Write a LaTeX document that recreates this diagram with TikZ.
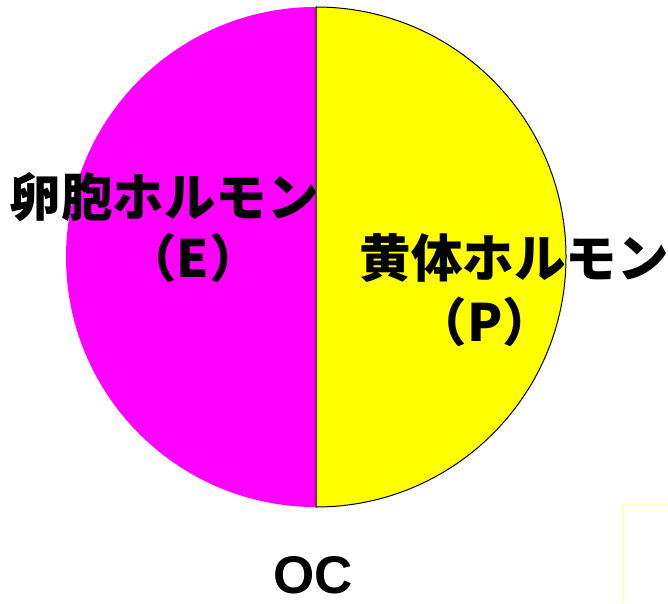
\documentclass[tikz,border=0pt]{standalone}
\usepackage{fontspec}
\setmainfont{Liberation Sans}
\newfontfamily\jpfont{Noto Sans CJK JP}
\usepackage{tikz}
\usetikzlibrary{positioning,calc}
\definecolor{pinkhalf}{HTML}{FF00FF}
\definecolor{yellowhalf}{HTML}{FFFF00}
\definecolor{paleyellow}{HTML}{FFFFC4}
\tikzset{
    label/.style={inner sep=0pt, font=\jpfont\bfseries\fontsize{51.5}{60}\selectfont},
    tag/.style={inner sep=0pt, font=\bfseries\fontsize{53}{60}\selectfont},
    rim/.style={draw=black, line width=1pt},
    frame/.style={draw=paleyellow, line width=2pt}
}

\begin{document}
\begin{tikzpicture}[x=1pt, y=1pt]
                    \useasboundingbox (0,0) rectangle (668,603);
                    \coordinate (C) at (316,346);
                    \coordinate (T) at (316,596);
                    \coordinate (B) at (316,96);
                    % the two halves
                    \fill[pinkhalf] (T) arc[start angle=90, end angle=270, radius=250] -- cycle;
                    \filldraw[fill=yellowhalf, rim] (B) arc[start angle=-90, end angle=90, radius=250] -- cycle;
                    \node[label] (E) at (164,406) {卵胞ホルモン};
                    \node[label] (Etag) at (193,345) {（E）};
                    \node[label] (P) at (514,345) {黄体ホルモン};
                    \node[label] (Ptag) at (485,281) {（P）};
                    \node[tag] (OC) at (313,28) {OC};
                    \coordinate (F1) at (623,0);
                    \coordinate (F2) at (623,98);
                    \coordinate (F3) at (668,98);
                    \draw[frame] (F1) -- (F2) -- (F3);
                \end{tikzpicture}
\end{document}
